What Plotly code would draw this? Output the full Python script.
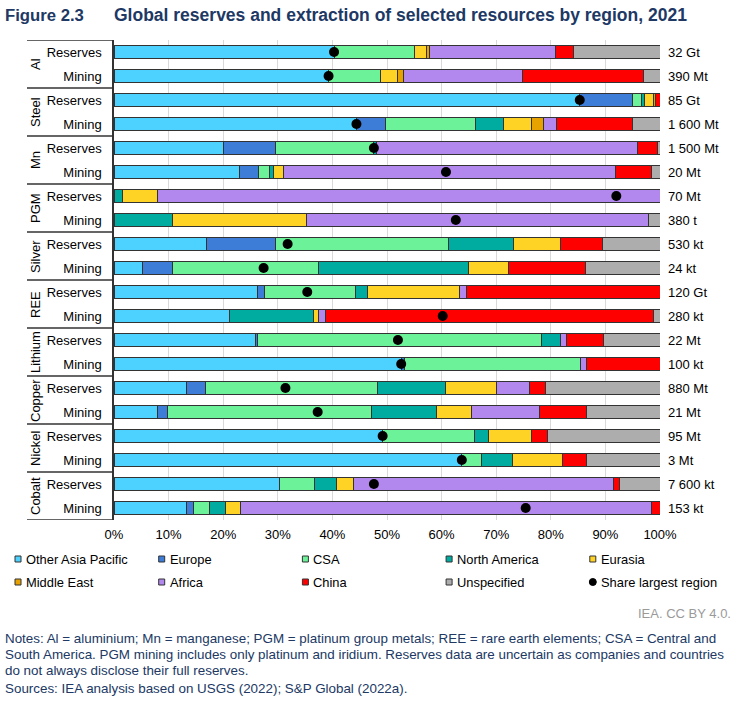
import plotly.graph_objects as go

groups = ["Al", "Steel", "Mn", "PGM", "Silver", "REE", "Lithium", "Copper", "Nickel", "Cobalt"]
rows = ["Reserves", "Mining"] * 10

regions = ["Other Asia Pacific", "Europe", "CSA", "North America", "Eurasia",
           "Middle East", "Africa", "China", "Unspecified"]
colours = ["#4DD2FF", "#3D7DD8", "#6CF298", "#00ABA0", "#FFD326",
           "#E8A200", "#B388EE", "#FF0000", "#ADADAD"]

# shares (%) per row, row order: Al R, Al M, Steel R, Steel M, ... Cobalt M
other_asia_pacific = [40.3, 39.3, 85.3, 44.4, 20.1, 23.0, 0, 0, 16.9, 5.3,
                      26.3, 21.1, 25.9, 52.6, 13.3, 8.0, 49.2, 63.7, 30.3, 13.3]
europe = [0, 0, 9.6, 5.3, 9.4, 3.4, 0, 0, 12.6, 5.5,
          1.2, 0, 0.4, 0.6, 3.5, 1.8, 0, 0, 0, 1.3]
csa = [14.8, 9.6, 1.8, 16.5, 18.1, 2.0, 0, 0, 31.8, 26.7,
       16.8, 0, 52.0, 32.2, 31.4, 37.3, 16.8, 3.6, 6.5, 2.8]
north_america = [0, 0, 0.5, 5.1, 0.5, 0.8, 1.5, 10.8, 11.9, 27.4,
                 2.2, 15.5, 3.5, 0, 12.6, 12.0, 2.6, 5.6, 4.0, 3.1]
eurasia = [2.2, 3.0, 1.6, 5.2, 0, 1.9, 6.5, 24.5, 8.5, 7.4,
           16.7, 0.8, 0, 0, 9.3, 6.3, 7.8, 9.2, 3.1, 2.6]
middle_east = [0.5, 1.1, 0.4, 2.2, 0, 0, 0, 0, 0, 0,
               0, 0, 0, 0, 0, 0, 0, 0, 0, 0]
africa = [23.1, 21.8, 0, 2.4, 47.7, 60.8, 92.0, 62.6, 0, 0,
          1.4, 1.3, 1.0, 1.2, 6.0, 12.6, 0, 0, 47.6, 75.4]
china = [3.2, 22.1, 0.8, 13.8, 3.7, 6.5, 0, 0, 7.7, 14.1,
         35.4, 60.2, 6.8, 13.4, 2.9, 8.5, 3.0, 4.5, 1.1, 1.5]
unspecified = [15.9, 3.1, 0, 5.1, 0.5, 1.6, 0, 2.1, 10.6, 13.6,
               0, 1.1, 10.4, 0, 21.0, 13.5, 20.6, 13.4, 7.4, 0]

largest_share = [40.3, 39.3, 85.3, 44.4, 47.6, 60.8, 92.0, 62.6, 31.8, 27.4,
                 35.4, 60.2, 52.0, 52.6, 31.4, 37.3, 49.2, 63.7, 47.6, 75.4]

totals = ["32 Gt", "390 Mt", "85 Gt", "1 600 Mt", "1 500 Mt", "20 Mt", "70 Mt", "380 t",
          "530 kt", "24 kt", "120 Gt", "280 kt", "22 Mt", "100 kt", "880 Mt", "21 Mt",
          "95 Mt", "3 Mt", "7 600 kt", "153 kt"]

x_ticks = list(range(0, 101, 10))
x_tick_labels = [f"{v}%" for v in x_ticks]

series = [other_asia_pacific, europe, csa, north_america, eurasia,
          middle_east, africa, china, unspecified]

W, H = 735, 707
L, R, T, B = 114, 660, 40, 520
FONT = "Liberation Sans, Arial, sans-serif"
NAVY = "#203864"


def px(x):
    return (x - L) / (R - L)


def py(y):
    return (B - y) / (B - T)


idx = list(range(len(rows)))

fig = go.Figure()

for name, col, vals in zip(regions, colours, series):
    fig.add_trace(
        go.Bar(
            x=[v if v > 0 else None for v in vals],
            y=idx,
            orientation="h",
            name=name,
            marker=dict(color=col, line=dict(color="#333333", width=1)),
            width=0.58,
            showlegend=False
        )
    )

fig.add_trace(
    go.Scatter(
        x=largest_share,
        y=idx,
        mode="markers",
        name="Share largest region",
        marker=dict(color="black", size=10, symbol="circle"),
        showlegend=False
    )
)

shapes = []
annotations = []

# group dividers and rotated group labels
for k in range(len(groups) + 1):
    shapes.append(dict(type="line", xref="paper", yref="y",
                       x0=px(27), x1=0, y0=2 * k - 0.5, y1=2 * k - 0.5,
                       line=dict(color="#333333", width=1.5)))
for k, g in enumerate(groups):
    annotations.append(dict(text=g, xref="paper", yref="y", x=px(35), y=2 * k + 0.5,
                            xanchor="center", yanchor="middle",
                            textangle=-90, showarrow=False,
                            font=dict(size=13, color="black")))

# totals on the right
for i, t in enumerate(totals):
    annotations.append(dict(text=t, xref="paper", yref="y", x=1, y=i, xanchor="left",
                            xshift=6, showarrow=False,
                            font=dict(size=13, color="black")))

# legend drawn by hand, 5 columns x 2 rows
legend_names = regions + ["Share largest region"]
legend_cols = colours + ["black"]
for n, (name, col) in enumerate(zip(legend_names, legend_cols)):
    cx = 18 + 143.7 * (n % 5)
    cy = 559 if n < 5 else 582
    if name == "Share largest region":
        shapes.append(dict(type="circle", xref="paper", yref="paper",
                           x0=px(cx - 3.5), x1=px(cx + 3.5), y0=py(cy - 3.5), y1=py(cy + 3.5),
                           fillcolor="black", line=dict(color="black", width=1)))
    else:
        shapes.append(dict(type="rect", xref="paper", yref="paper",
                           x0=px(cx - 3), x1=px(cx + 3), y0=py(cy - 3), y1=py(cy + 3),
                           fillcolor=col, line=dict(color="#333333", width=1)))
    annotations.append(dict(text=name, xref="paper", yref="paper", x=px(cx + 6), y=py(cy),
                            xanchor="left", yanchor="middle", showarrow=False,
                            font=dict(size=12.9, color="black")))

# title
annotations.append(dict(text="<b>Figure 2.3</b>", xref="paper", yref="paper",
                        x=px(3), y=py(15), xanchor="left", yanchor="middle", showarrow=False,
                        font=dict(size=16.7, color=NAVY)))
annotations.append(dict(text="<b>Global reserves and extraction of selected resources by region, 2021</b>",
                        xref="paper", yref="paper", x=px(112), y=py(15),
                        xanchor="left", yanchor="middle", showarrow=False,
                        font=dict(size=17.5, color=NAVY)))

annotations.append(dict(text="IEA. CC BY 4.0.", xref="paper", yref="paper",
                        x=px(733), y=py(613), xanchor="right", yanchor="middle",
                        showarrow=False, font=dict(size=13, color="#9A9A9A")))

notes = [
    ("Notes: Al = aluminium; Mn = manganese; PGM = platinum group metals; REE = rare earth elements; CSA = Central and", 638),
    ("South America. PGM mining includes only platinum and iridium. Reserves data are uncertain as companies and countries", 654),
    ("do not always disclose their full reserves.", 670),
    ("Sources: IEA analysis based on USGS (2022); S&P Global (2022a).", 688),
]
for txt, y in notes:
    annotations.append(dict(text=txt, xref="paper", yref="paper", x=px(3), y=py(y),
                            xanchor="left", yanchor="middle", showarrow=False,
                            font=dict(size=13.4, color=NAVY)))

fig.update_layout(
    barmode="stack",
    width=W,
    height=H,
    margin=dict(l=L, r=W - R, t=T, b=H - B, autoexpand=False),
    paper_bgcolor="white",
    plot_bgcolor="white",
    font=dict(family=FONT, size=13, color="black"),
    shapes=shapes,
    annotations=annotations,
    showlegend=False,
    xaxis=dict(
        range=[0, 100],
        tickmode="array",
        tickvals=x_ticks,
        ticktext=x_tick_labels,
        showgrid=True,
        gridcolor="#D9D9D9",
        gridwidth=1,
        zeroline=False,
        fixedrange=True,
        ticklabelstandoff=5,
        tickfont=dict(size=13, color="black")
    ),
    yaxis=dict(
        range=[19.5, -0.5],
        tickvals=idx,
        ticktext=rows,
        showgrid=False,
        zeroline=False,
        showline=True,
        linecolor="#333333",
        linewidth=1.5,
        ticklabelstandoff=8,
        fixedrange=True,
        tickfont=dict(size=13, color="black")
    )
)

# the page body has a default 8px margin; drop it so the figure sits at the corner
fig.write_html("out.html", config={"displayModeBar": False},
               post_script="document.body.style.margin='0px';")
